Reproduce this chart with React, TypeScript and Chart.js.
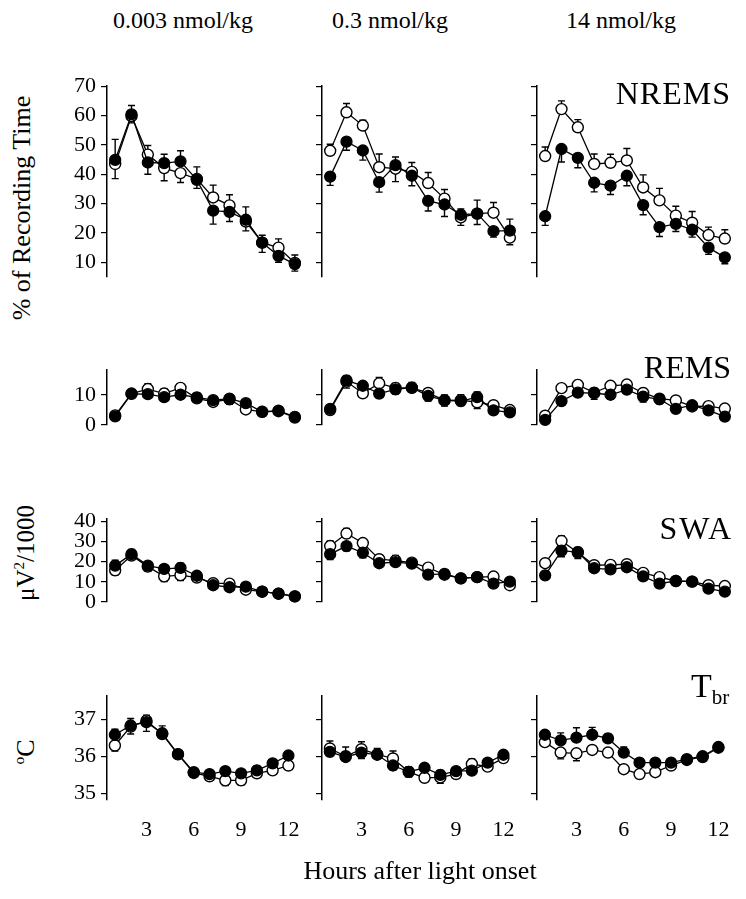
import React, { useEffect, useRef } from 'react';
import { Chart, registerables } from 'chart.js';

Chart.register(...registerables);

const SERIF = "'Liberation Serif', 'Times New Roman', serif";

// ---------- categories / ticks ----------
const HOURS = [1, 2, 3, 4, 5, 6, 7, 8, 9, 10, 11, 12];
const X_TICKS = [3, 6, 9, 12];
const DOSES = ['0.003 nmol/kg', '0.3 nmol/kg', '14 nmol/kg'];

const NREMS_TICKS = [10, 20, 30, 40, 50, 60, 70];
const REMS_TICKS = [0, 10];
const SWA_TICKS = [0, 10, 20, 30, 40];
const TBR_TICKS = [35, 36, 37];

// ---------- NREMS (% of recording time) ----------
const nremsD1Filled = [44.9, 60.4, 44, 43.8, 44.4, 38.1, 27.6, 27.2, 24.5, 16.7, 12.2, 9.4];
const nremsD1FilledErr = [7, 3, -4, 3, 3.6, 4.4, -4.6, -3.3, 4.4, 2.5, -2.2, -2.4];
const nremsD1Open = [43.5, 59.8, 46.7, 42.1, 40.4, 38.4, 32.1, 29.4, 23.9, 16.7, 15, 9.8];
const nremsD1OpenErr = [-5, -2.3, 3.1, -4.3, -3.2, -3.2, 4.2, 3.6, -3.2, -3.3, 3, 2.7];

const nremsD2Filled = [39.2, 51.1, 48.1, 37.3, 43.1, 39.5, 30.9, 29.7, 26.2, 26.6, 20.6, 20.8];
const nremsD2FilledErr = [-3, -2.9, -3.3, -3.4, 2.8, -3.4, -3.4, -4.1, 2, 4.6, -2, 3.9];
const nremsD2Open = [48, 61.1, 56.6, 42.4, 41.9, 40.8, 37, 31.7, 25.3, 26.6, 26.9, 18.4];
const nremsD2OpenErr = [2.2, 3, 1.8, 4.5, -4.4, 3.2, 3.6, 3.1, -2.7, -3.7, 3.5, -2.4];

const nremsD3Filled = [25.7, 48.6, 45.6, 37.1, 36.1, 39.5, 29.5, 22, 23.1, 21.1, 15, 11.7];
const nremsD3FilledErr = [-3.1, -4.4, -3.4, -3.1, -3, -3.4, -3.3, -3.2, -2.6, -2.5, -2.3, -2.2];
const nremsD3Open = [46.2, 62.2, 56, 43.5, 43.9, 44.7, 35.5, 31.1, 25.9, 23.5, 19.3, 18.1];
const nremsD3OpenErr = [3.1, 2.8, 2.6, 3.4, 2.9, 4.1, 4.3, 4.1, 3.2, 3.8, 2.7, 3];

// ---------- REMS ----------
const remsD1Filled = [2.9, 10.4, 10.3, 9.3, 10.1, 9.2, 8.3, 8.8, 7.3, 4.4, 4.8, 2.7];
const remsD1FilledErr = [-0.6, 0.6, -1.3, -1.4, -0.8, 1.5, 1.2, 1.2, 0.8, -0.6, 0.7, -0.6];
const remsD1Open = [3.2, 10.5, 12, 10.5, 12.4, 8.9, 7.7, 8.6, 5.2, 4.4, 4.6, 2.5];
const remsD1OpenErr = [0.5, -0.7, 1.8, 1.6, 1.4, -1.2, -1.4, -1.7, -0.8, 0.6, -0.7, 0.6];

const remsD2Filled = [5.4, 14.9, 13.1, 10.5, 11.9, 12.5, 9.7, 8.2, 8, 9.3, 4.9, 4.2];
const remsD2FilledErr = [0.5, 1.6, 1.2, -1.3, -1.6, 1.7, -1.7, 1.8, -1.5, 1.7, -1, -0.8];
const remsD2Open = [5, 14.5, 10.6, 13.9, 12.4, 12.4, 10.7, 8.2, 8.3, 7.6, 6.6, 5];
const remsD2OpenErr = [-0.5, -2.2, -1, 2, 1.5, -1.2, 1.4, -1.9, 1.8, -2.1, 1.5, 1];

const remsD3Filled = [1.7, 8, 10.8, 10.6, 10.1, 11.8, 9.5, 8.6, 5.4, 6.6, 4.9, 2.8];
const remsD3FilledErr = [-0.5, -1.3, -1, -2, -1.5, -1.1, -1.8, -1.5, -0.8, 1.2, -1.1, -0.6];
const remsD3Open = [3.1, 12.3, 13.4, 10.8, 13.1, 13.5, 10.7, 8.8, 8.2, 6.2, 6.3, 5.5];
const remsD3OpenErr = [0.5, 1.2, 1.5, 1.4, 1.3, 1.2, 1.5, 1.2, 1, -1, 1, 0.8];

// ---------- SWA (µV²/1000) ----------
const swaD1Filled = [18, 23.7, 18, 16.4, 16.9, 13, 8.3, 7.3, 7.6, 5.1, 4.1, 2.8];
const swaD1FilledErr = [2.7, 2.3, 2, 1.8, 2.3, 1.5, -1.9, -1.2, 1.2, 0.6, 0.5, 0.5];
const swaD1Open = [15.7, 23, 17.5, 12.7, 13.3, 12.1, 9.3, 9.1, 6.1, 5.1, 4.1, 2.8];
const swaD1OpenErr = [-2.4, -1.5, -2.3, -2.6, -2.7, -1.5, 1, 1.3, -1, -0.6, -0.5, -0.5];

const swaD2Filled = [23.7, 27.7, 24.4, 19.2, 19.7, 19, 13.6, 13.9, 11.7, 12.3, 9.1, 10.1];
const swaD2FilledErr = [-2.7, -2.3, -2.5, -1.5, 3.3, 1.5, -1.3, 1.4, -1, 1.4, -1, 1];
const swaD2Open = [27.7, 33.9, 29.2, 21.2, 20.5, 19.5, 17, 13.5, 11.7, 12.3, 12.6, 8.3];
const swaD2OpenErr = [2.5, 2.5, 1.8, 2.2, -1.5, -1.5, 1, -1.4, 1, -1, 1, -1];

const swaD3Filled = [13.2, 25.4, 24.7, 16.7, 16.2, 17.2, 12.7, 9.1, 10.4, 10.1, 6.6, 5.1];
const swaD3FilledErr = [-1.5, -3, 2.3, -1.2, -1.2, -1.2, -1.5, -1, -0.8, -0.8, -0.7, -0.6];
const swaD3Open = [19.2, 30.2, 24.5, 18.2, 18.4, 18.7, 14.4, 12.3, 10.4, 10.1, 8.3, 7.9];
const swaD3OpenErr = [1, 2.5, -3, 1.2, 1.2, 1.2, 1.5, 1.2, 0.8, 0.8, 0.7, 0.6];

// ---------- Tbr (°C) ----------
const tbrD1Filled = [36.58, 36.83, 36.92, 36.62, 36.06, 35.57, 35.52, 35.6, 35.54, 35.62, 35.81, 36.02];
const tbrD1FilledErr = [0.15, 0.19, -0.25, 0.2, 0.08, 0.08, 0.08, 0.1, 0.1, 0.12, 0.08, 0.08];
const tbrD1Open = [36.29, 36.8, 36.96, 36.6, 36.05, 35.55, 35.46, 35.35, 35.35, 35.54, 35.62, 35.75];
const tbrD1OpenErr = [-0.15, -0.2, 0.15, -0.1, -0.08, -0.12, -0.08, -0.14, -0.13, -0.1, -0.08, -0.08];

const tbrD2Filled = [36.12, 35.98, 36.1, 36.04, 35.75, 35.58, 35.69, 35.5, 35.6, 35.61, 35.83, 36.04];
const tbrD2FilledErr = [-0.1, 0.27, -0.16, 0.17, -0.12, 0.13, 0.08, 0.12, 0.1, -0.1, 0.08, 0.08];
const tbrD2Open = [36.21, 36, 36.19, 36.05, 35.94, 35.58, 35.42, 35.43, 35.52, 35.79, 35.72, 35.95];
const tbrD2OpenErr = [0.2, -0.1, 0.2, -0.1, 0.2, -0.14, -0.1, -0.16, -0.1, 0.14, -0.08, -0.08];

const tbrD3Filled = [36.58, 36.43, 36.5, 36.58, 36.48, 36.1, 35.83, 35.83, 35.83, 35.92, 36, 36.25];
const tbrD3FilledErr = [0.1, 0.2, 0.27, 0.2, 0.12, 0.15, 0.08, 0.08, 0.07, 0.07, 0.06, 0.06];
const tbrD3Open = [36.38, 36.1, 36.08, 36.17, 36.1, 35.65, 35.52, 35.57, 35.75, 35.9, 35.98, 36.23];
const tbrD3OpenErr = [-0.1, -0.17, -0.2, -0.1, -0.1, -0.08, -0.1, -0.08, -0.08, -0.06, -0.06, -0.06];

// ---------- layout ----------
const COL_AXIS_X = [107, 322, 537];
const AREA_W = 196;
const LEFT_W = 60;
const RIGHT_PAD = 14;

type RowSpec = { top: number; bottom: number; min: number; max: number; ticks: number[] };
const ROWS: RowSpec[] = [
  { top: 78, bottom: 322, min: 5, max: 70, ticks: NREMS_TICKS },
  { top: 362, bottom: 470, min: 0, max: 18.3, ticks: REMS_TICKS },
  { top: 511, bottom: 647, min: 0, max: 41, ticks: SWA_TICKS },
  { top: 688, bottom: 800, min: 34.82, max: 37.62, ticks: TBR_TICKS },
];

type SeriesSet = { filled: number[]; filledErr: number[]; open: number[]; openErr: number[] };
const PANELS: SeriesSet[][] = [
  [
    { filled: nremsD1Filled, filledErr: nremsD1FilledErr, open: nremsD1Open, openErr: nremsD1OpenErr },
    { filled: nremsD2Filled, filledErr: nremsD2FilledErr, open: nremsD2Open, openErr: nremsD2OpenErr },
    { filled: nremsD3Filled, filledErr: nremsD3FilledErr, open: nremsD3Open, openErr: nremsD3OpenErr },
  ],
  [
    { filled: remsD1Filled, filledErr: remsD1FilledErr, open: remsD1Open, openErr: remsD1OpenErr },
    { filled: remsD2Filled, filledErr: remsD2FilledErr, open: remsD2Open, openErr: remsD2OpenErr },
    { filled: remsD3Filled, filledErr: remsD3FilledErr, open: remsD3Open, openErr: remsD3OpenErr },
  ],
  [
    { filled: swaD1Filled, filledErr: swaD1FilledErr, open: swaD1Open, openErr: swaD1OpenErr },
    { filled: swaD2Filled, filledErr: swaD2FilledErr, open: swaD2Open, openErr: swaD2OpenErr },
    { filled: swaD3Filled, filledErr: swaD3FilledErr, open: swaD3Open, openErr: swaD3OpenErr },
  ],
  [
    { filled: tbrD1Filled, filledErr: tbrD1FilledErr, open: tbrD1Open, openErr: tbrD1OpenErr },
    { filled: tbrD2Filled, filledErr: tbrD2FilledErr, open: tbrD2Open, openErr: tbrD2OpenErr },
    { filled: tbrD3Filled, filledErr: tbrD3FilledErr, open: tbrD3Open, openErr: tbrD3OpenErr },
  ],
];

const errorBarPlugin = {
  id: 'errbars',
  beforeDatasetsDraw(chart: any) {
    const ctx = chart.ctx;
    const xs = chart.scales.x;
    const ys = chart.scales.y;
    chart.data.datasets.forEach((ds: any) => {
      const errs: number[] | undefined = ds.errors;
      if (!errs) return;
      ctx.save();
      ctx.strokeStyle = '#000';
      ctx.lineWidth = 1.4;
      ds.data.forEach((p: any, i: number) => {
        const x = xs.getPixelForValue(p.x);
        const y0 = ys.getPixelForValue(p.y);
        const y1 = ys.getPixelForValue(p.y + errs[i]);
        ctx.beginPath();
        ctx.moveTo(x, y0);
        ctx.lineTo(x, y1);
        ctx.moveTo(x - 3.5, y1);
        ctx.lineTo(x + 3.5, y1);
        ctx.stroke();
      });
      ctx.restore();
    });
  },
};

function Panel({ row, col }: { row: number; col: number }) {
  const ref = useRef<HTMLCanvasElement | null>(null);
  const spec = ROWS[row];
  const data = PANELS[row][col];
  const showX = row === ROWS.length - 1;
  const showYLabels = col === 0;
  const padTop = 10;
  const bottomExtra = showX ? 45 : 10;
  const width = LEFT_W + AREA_W + RIGHT_PAD;
  const height = spec.bottom - spec.top + padTop + bottomExtra;
  const left = COL_AXIS_X[col] - LEFT_W;
  const top = spec.top - padTop;

  useEffect(() => {
    if (!ref.current) return;
    const mk = (vals: number[]) => vals.map((v, i) => ({ x: HOURS[i], y: v }));
    const chart = new Chart(ref.current, {
      type: 'line',
      data: {
        datasets: [
          {
            data: mk(data.filled),
            errors: data.filledErr,
            borderColor: '#000',
            borderWidth: 1.3,
            pointRadius: 5.5,
            pointBackgroundColor: '#000',
            pointBorderColor: '#000',
            pointBorderWidth: 1.3,
            tension: 0,
            clip: false,
          } as any,
          {
            data: mk(data.open),
            errors: data.openErr,
            borderColor: '#000',
            borderWidth: 1.3,
            pointRadius: 5.5,
            pointBackgroundColor: '#fff',
            pointBorderColor: '#000',
            pointBorderWidth: 1.4,
            tension: 0,
            clip: false,
          } as any,
        ],
      },
      options: {
        responsive: false,
        animation: false,
        events: [],
        layout: { padding: { left: 0, right: RIGHT_PAD, top: padTop, bottom: showX ? 0 : 10 } },
        plugins: { legend: { display: false }, tooltip: { enabled: false } },
        scales: {
          x: {
            type: 'linear',
            min: 0.5,
            max: 12.5,
            display: showX,
            afterBuildTicks: (s: any) => {
              s.ticks = X_TICKS.map((v) => ({ value: v }));
            },
            afterFit: (s: any) => {
              s.height = 45;
            },
            grid: { display: false, drawTicks: false },
            border: { display: false },
            ticks: {
              color: '#000',
              font: { family: SERIF, size: 22 },
              padding: 17,
              maxRotation: 0,
              autoSkip: false,
            },
          },
          y: {
            type: 'linear',
            min: spec.min,
            max: spec.max,
            afterBuildTicks: (s: any) => {
              s.ticks = spec.ticks.map((v) => ({ value: v }));
            },
            afterFit: (s: any) => {
              s.width = LEFT_W;
            },
            grid: {
              display: true,
              drawOnChartArea: false,
              drawTicks: true,
              tickLength: 6,
              color: '#000',
              lineWidth: 1.2,
            },
            border: { display: true, color: '#000', width: 1.5 },
            ticks: {
              color: '#000',
              font: { family: SERIF, size: 22 },
              padding: 5,
              autoSkip: false,
              callback: (v: any) => (showYLabels ? String(v) : ''),
            },
          },
        },
      } as any,
      plugins: [errorBarPlugin],
    });
    return () => chart.destroy();
  }, [row, col]);

  return (
    <canvas
      ref={ref}
      width={width}
      height={height}
      style={{ position: 'absolute', left, top, width, height }}
    />
  );
}

function Txt({
  x,
  y,
  children,
  size,
  anchor = 'center',
  rotate = false,
  spacing = 0,
}: {
  x: number;
  y: number;
  children: React.ReactNode;
  size: number;
  anchor?: 'center' | 'right' | 'left';
  rotate?: boolean;
  spacing?: number;
}) {
  const tx = anchor === 'right' ? '-100%' : anchor === 'left' ? '0' : '-50%';
  return (
    <div
      style={{
        position: 'absolute',
        left: x,
        top: y,
        width: 'max-content',
        transform: `translate(${tx}, -50%)${rotate ? ' rotate(-90deg)' : ''}`,
        fontFamily: SERIF,
        fontSize: size,
        lineHeight: 1,
        whiteSpace: 'nowrap',
        color: '#000',
        letterSpacing: spacing,
      }}
    >
      {children}
    </div>
  );
}

export default function App() {
  const cells: React.ReactNode[] = [];
  for (let r = 0; r < ROWS.length; r++) {
    for (let c = 0; c < 3; c++) {
      cells.push(<Panel key={`${r}-${c}`} row={r} col={c} />);
    }
  }
  const supStyle: React.CSSProperties = { fontSize: '0.6em', verticalAlign: 'super', lineHeight: 0 };
  const subStyle: React.CSSProperties = {
    fontSize: '0.62em',
    position: 'relative',
    top: '0.35em',
    lineHeight: 0,
  };
  return (
    <div
      style={{
        position: 'absolute',
        left: 0,
        top: 0,
        width: 746,
        height: 899,
        background: '#fff',
        overflow: 'hidden',
      }}
    >
      {cells}
      <Txt x={183} y={20} size={24}>{DOSES[0]}</Txt>
      <Txt x={390} y={20} size={24}>{DOSES[1]}</Txt>
      <Txt x={621} y={20} size={24}>{DOSES[2]}</Txt>

      <Txt x={731} y={93} size={32} anchor="right" spacing={1}>NREMS</Txt>
      <Txt x={731} y={367} size={32} anchor="right">REMS</Txt>
      <Txt x={733} y={528} size={32} anchor="right" spacing={2}>SWA</Txt>
      <Txt x={691} y={686} size={34} anchor="left">
        T<span style={subStyle}>br</span>
      </Txt>

      <Txt x={22} y={208} size={26} rotate>% of Recording Time</Txt>
      <Txt x={25} y={553} size={25} rotate>
        μV<span style={supStyle}>2</span>/1000
      </Txt>
      <Txt x={26} y={752} size={26} rotate>
        <span style={supStyle}>o</span>C
      </Txt>

      <Txt x={420} y={871} size={26}>Hours after light onset</Txt>
    </div>
  );
}
